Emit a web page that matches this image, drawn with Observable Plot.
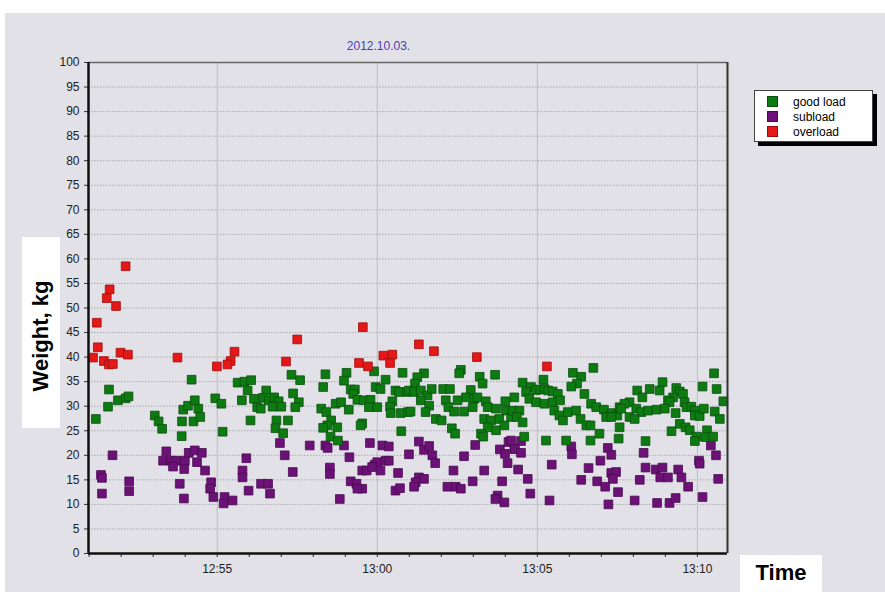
<!DOCTYPE html>
<html><head><meta charset="utf-8">
<script src="https://cdn.jsdelivr.net/npm/d3@7"></script>
<script src="https://cdn.jsdelivr.net/npm/@observablehq/plot@0.6"></script>
<style>
body{margin:0;background:#fff;font-family:Arial,"Liberation Sans",sans-serif;}
#wrap{position:relative;width:885px;height:592px;overflow:hidden;background:#fff;}
#panel{position:absolute;left:5px;top:13px;width:880px;height:579px;background:#e1e1e7;}
#chart{position:absolute;left:0;top:0;}
#title{position:absolute;left:0;top:39px;width:757px;text-align:center;font-size:12px;color:#4a40b0;}
#ylab{position:absolute;left:22px;top:237px;width:38px;height:191px;background:#fff;}
#ylab span{position:absolute;left:50%;top:52%;transform:translate(-50%,-50%) rotate(-90deg);font-weight:bold;font-size:22px;white-space:nowrap;color:#000;}
#xlab{position:absolute;left:740px;top:555px;width:82px;height:37px;background:#fff;}
#xlab span{position:absolute;left:0;width:100%;top:5px;text-align:center;font-weight:bold;font-size:22px;color:#000;}
#legend{position:absolute;left:754px;top:90px;width:117px;height:50px;background:#fff;border:1px solid #444;box-shadow:4px 4px 0 #000;font-size:12px;color:#000;}
#legend div{position:absolute;left:12px;height:14px;line-height:14px;}
#legend i{display:inline-block;width:9px;height:9px;margin-right:15px;vertical-align:-1px;}
</style></head>
<body>
<div id="wrap">
<div id="panel"></div>
<div id="chart"></div>
<div id="title"></div>
<div id="ylab"><span></span></div>
<div id="xlab"><span></span></div>
<div id="legend"></div>
</div>
<script>
// ---- data (time in minutes after 12:50, weight in kg) ----
const titleText = "2012.10.03.";
const yLabel = "Weight, kg";
const xLabel = "Time";
const categories = ["good load", "subload", "overload"];
const catColors = ["#0e7a12", "#6c1277", "#e41818"];
const catStrokes = ["#08500a", "#4a0a52", "#a00c0c"];
const xTickLabels = ["12:55", "13:00", "13:05", "13:10"];
const yTickValues = [0,5,10,15,20,25,30,35,40,45,50,55,60,65,70,75,80,85,90,95,100];
const xDomainMinutes = [0.98, 20.94];

const overTimes = [2.14,1.64,1.55,1.84,1.24,1.27,1.12,1.46,1.62,1.74,1.98,2.21,3.76,7.50,5.54,5.42,5.32,4.99,7.15,9.55,9.43,9.71,10.19,10.47,10.40,11.30,11.77,13.11,15.30];
const overWeights = [58.5,53.8,52.0,50.4,47.0,42.0,39.9,39.2,38.5,38.6,40.9,40.5,39.9,43.6,41.1,39.2,38.5,38.1,39.1,46.1,38.8,38.1,40.3,40.5,38.8,42.6,41.2,40.0,38.1];

const goodTimes = [4.20,1.62,1.90,2.14,2.23,1.59,1.21,3.05,3.17,3.28,3.94,4.09,4.30,3.90,4.26,3.89,
5.64,5.85,6.06,5.95,7.32,7.59,4.94,5.13,5.77,6.15,6.53,6.43,6.61,6.78,6.92,6.25,6.36,6.73,7.00,7.37,7.55,7.44,4.41,4.47,6.04,6.85,7.21,6.82,7.06,5.17,
8.38,9.04,8.96,9.90,10.79,8.31,10.26,9.17,9.30,9.25,9.95,10.10,10.57,10.68,10.92,8.70,8.87,9.38,9.58,9.79,10.47,10.40,10.42,8.25,8.41,9.11,9.74,10.00,10.73,10.96,8.56,8.44,8.75,9.53,9.48,8.31,8.54,8.77,10.75,
12.61,12.56,11.46,11.25,13.20,13.29,13.68,11.18,10.99,11.15,11.36,11.57,11.70,12.06,12.27,12.92,12.77,13.03,13.13,11.36,11.62,11.51,12.14,12.22,12.51,13.39,13.45,11.04,12.40,12.71,12.98,13.71,14.02,14.00,14.28,11.83,12.01,13.34,13.55,13.81,14.18,13.45,13.71,13.97,12.33,12.43,13.24,13.31,
16.75,16.11,16.37,16.24,16.06,15.19,14.54,14.80,14.96,14.65,15.09,15.22,15.34,15.48,15.64,14.75,14.96,15.22,15.48,15.71,16.47,16.68,16.84,17.08,17.31,17.50,17.57,15.53,15.69,15.80,15.95,16.21,16.35,16.53,16.66,17.15,17.31,14.23,14.44,14.36,14.54,17.57,16.94,14.59,15.27,15.90,16.66,17.54,
20.52,18.91,20.16,20.60,18.12,18.51,18.82,18.28,19.34,19.45,19.55,19.24,19.08,19.13,20.81,17.88,17.72,17.62,19.60,19.66,19.81,19.92,19.92,20.07,20.20,18.09,18.25,18.46,18.72,18.98,17.88,18.04,19.32,20.54,20.70,19.45,19.63,19.76,19.19,20.30,20.26,20.49,19.97,19.92,18.38];
const goodWeights = [35.4,33.4,31.2,31.6,32.0,29.9,27.4,28.1,26.9,25.4,29.3,30.1,31.2,26.9,26.9,23.9,
34.8,35.0,35.3,33.2,36.4,35.3,31.6,30.5,31.2,31.5,33.2,31.7,31.2,31.8,31.0,29.8,29.5,29.9,29.9,32.6,30.8,29.8,29.5,27.8,27.1,27.1,27.1,25.5,24.5,24.8,
36.5,36.8,35.2,37.1,36.8,33.9,35.4,33.4,33.4,32.5,33.9,33.5,33.2,32.9,32.9,30.5,30.8,31.3,31.2,31.3,31.0,29.9,28.6,29.5,28.8,29.3,29.8,29.8,28.6,28.8,27.1,26.1,25.7,26.5,26.1,25.6,23.8,23.0,24.9,
37.4,36.7,36.7,35.9,36.0,34.6,36.4,34.6,33.2,32.9,33.2,32.2,33.5,33.5,33.5,33.3,31.8,31.5,31.8,31.2,30.1,28.8,31.2,29.8,31.2,31.0,29.8,28.9,28.9,28.9,29.8,29.5,29.1,31.0,31.8,27.4,27.1,27.4,27.1,27.4,27.8,25.7,25.1,26.1,25.5,24.4,24.4,23.8,
37.8,36.8,36.0,34.6,34.0,35.4,34.8,33.9,33.3,32.9,33.4,33.5,33.2,33.0,32.5,31.5,30.8,30.5,30.8,31.2,32.5,30.5,29.8,29.3,28.6,28.1,29.8,29.1,28.1,27.1,28.8,29.1,27.4,26.1,26.1,27.8,27.8,29.1,29.1,27.8,26.7,25.7,24.4,23.8,23.0,23.0,23.0,23.4,
36.7,34.9,34.0,33.5,33.2,33.5,33.2,31.8,33.7,33.0,32.5,31.8,31.2,30.8,31.0,30.8,30.5,29.5,30.8,29.8,29.9,29.1,28.1,28.0,29.5,29.5,28.8,29.1,29.3,29.5,27.8,27.4,28.6,28.9,27.4,26.4,25.7,25.1,24.9,25.1,23.7,23.8,23.8,22.9,22.9];

const subTimes = [1.73,1.37,1.40,1.40,2.25,2.25,3.41,3.31,3.55,3.72,3.99,3.62,3.97,4.11,4.30,3.83,3.96,4.37,
4.52,4.62,4.81,4.78,4.88,5.23,5.20,5.48,5.91,5.79,5.79,5.98,6.37,6.59,6.65,6.96,7.11,7.36,
7.89,8.38,8.45,8.96,9.77,10.16,10.36,9.13,8.52,8.52,9.53,9.67,9.92,10.00,9.84,10.10,10.26,10.36,10.65,10.99,9.17,9.35,9.53,9.38,8.83,10.57,10.71,
11.30,11.46,11.62,11.72,11.81,12.71,13.06,13.83,14.10,13.99,14.07,14.28,12.38,13.34,12.98,13.90,11.30,11.46,11.20,11.15,12.19,12.45,12.61,13.76,13.69,13.97,
14.18,14.49,14.30,14.49,16.06,16.08,17.20,17.31,16.97,15.45,16.60,14.40,14.70,17.31,17.46,17.36,16.37,16.87,17.12,17.52,14.78,15.38,17.22,
20.42,20.58,18.32,20.05,20.07,18.38,18.70,18.91,18.84,19.08,19.40,19.50,20.65,18.20,19.71,18.04,18.74,19.13,19.32,20.16];
const subWeights = [20.0,16.0,15.4,12.2,14.7,12.7,20.8,18.9,18.9,18.9,18.9,17.7,17.2,20.5,21.0,14.2,11.2,18.6,
20.5,16.9,14.5,13.2,11.5,11.5,10.2,10.8,19.4,16.9,15.5,12.8,14.2,14.2,12.2,22.5,20.0,16.6,
22.0,22.0,21.5,22.0,22.5,22.0,21.8,19.6,17.5,16.2,16.9,16.9,18.1,18.6,17.6,16.9,18.9,18.9,16.4,20.2,14.7,14.2,13.2,13.2,11.1,12.8,13.3,
22.8,21.1,21.9,20.0,18.4,19.8,22.1,21.2,22.7,20.3,18.4,21.3,16.9,16.9,14.7,14.7,15.5,15.2,14.5,13.6,13.6,13.6,13.2,11.8,11.1,10.4,
23.0,22.9,21.3,20.5,21.8,20.2,21.5,20.1,18.9,18.1,17.4,17.1,15.2,16.4,16.6,15.2,15.0,14.7,13.6,12.5,12.2,10.8,10.0,
22.0,20.0,20.5,18.9,18.3,17.5,17.1,17.5,15.5,15.5,17.1,15.5,15.2,15.0,13.6,10.8,10.3,10.3,11.3,11.5];

// ---- build ----
const base = new Date(2012, 9, 3, 12, 50, 0);
const toDate = m => new Date(base.getTime() + m * 60000);
const parseHM = s => { const [h, mm] = s.split(":").map(Number); return new Date(2012, 9, 3, h, mm, 0); };
const xTicks = xTickLabels.map(parseHM);
const xDomain = xDomainMinutes.map(toDate);
const minorTicks = d3.timeMinute.range(xDomain[0], xDomain[1]).filter(d => d > xDomain[0]);
const yMax = yTickValues[yTickValues.length - 1];

function rowsOf(ts, ws, ci) { return ts.map((t, i) => ({t: toDate(t), w: ws[i], ci})); }
const rows = [
  ...rowsOf(subTimes, subWeights, 1),
  ...rowsOf(goodTimes, goodWeights, 0),
  ...rowsOf(overTimes, overWeights, 2)
];

const chart = Plot.plot({
  width: 885, height: 592,
  marginLeft: 88, marginRight: 158, marginTop: 62, marginBottom: 39,
  style: {background: "transparent", fontFamily: "Arial, 'Liberation Sans', sans-serif", fontSize: "12px", color: "#222"},
  x: {type: "time", domain: xDomain},
  y: {domain: [0, yMax]},
  marks: [
    Plot.gridY(yTickValues.slice(1, -1), {stroke: "#a8a8b0", strokeOpacity: 1, strokeDasharray: "1.5,1.5"}),
    Plot.gridX(xTicks, {stroke: "#bcbcc4", strokeOpacity: 1}),
    Plot.axisY(yTickValues, {tickSize: 4, tickPadding: 5, label: null, stroke: "#333"}),
    Plot.axisX(minorTicks, {tickSize: 4, tickFormat: () => "", label: null, stroke: "#333"}),
    Plot.axisX(xTicks, {tickSize: 0, tickPadding: 11, label: null, tickFormat: d3.timeFormat("%H:%M"), fontSize: 12}),
    Plot.dot(rows, {x: "t", y: "w", symbol: "square", r: 4.9,
      fill: d => catColors[d.ci], stroke: d => catStrokes[d.ci], strokeWidth: 0.8}),
    Plot.ruleY([yMax], {stroke: "#666", strokeWidth: 1.5}),
    Plot.ruleY([0], {stroke: "#111", strokeWidth: 2.5}),
    Plot.ruleX([xDomain[0]], {stroke: "#111", strokeWidth: 2.5}),
    Plot.ruleX([xDomain[1]], {stroke: "#333", strokeWidth: 2})
  ]
});
document.getElementById("chart").appendChild(chart);
document.getElementById("title").textContent = titleText;
document.querySelector("#ylab span").textContent = yLabel;
document.querySelector("#xlab span").textContent = xLabel;
const lg = document.getElementById("legend");
categories.forEach((c, i) => {
  const d = document.createElement("div");
  d.style.top = (4 + i * 15) + "px";
  d.innerHTML = `<i style="background:${catColors[i]};border:0.5px solid ${catStrokes[i]}"></i>${c}`;
  lg.appendChild(d);
});
</script>
</body></html>
